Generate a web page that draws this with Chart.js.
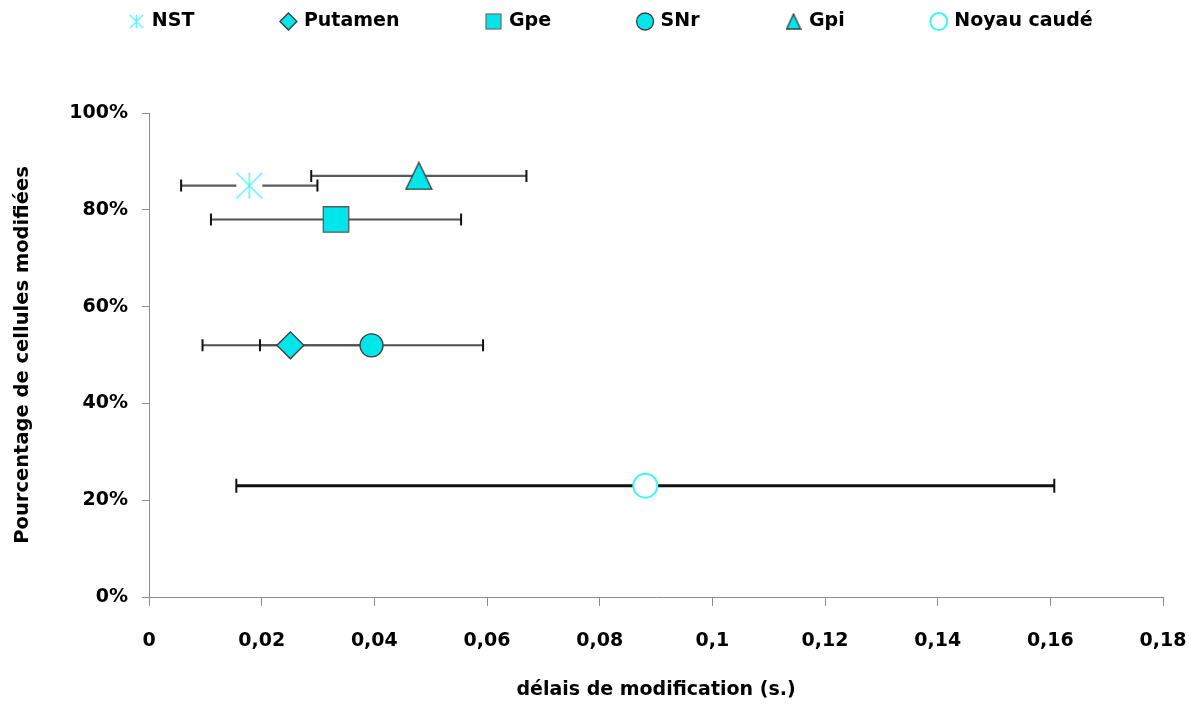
<!DOCTYPE html>
<html>
<head>
<meta charset="utf-8">
<script src="https://cdn.jsdelivr.net/npm/chart.js@4/dist/chart.umd.min.js"></script>
<style>
  html, body { margin: 0; padding: 0; background: #fff; }
  #wrap { width: 1201px; height: 707px; }
</style>
</head>
<body>
<div id="wrap"><canvas id="c" width="1201" height="707"></canvas></div>
<script>
// ---- data ----
const seriesNames = ['NST', 'Putamen', 'Gpe', 'SNr', 'Gpi', 'Noyau caudé'];
const delays = [0.0178, 0.0251, 0.0332, 0.0395, 0.0479, 0.0881];       // x (s.)
const percents = [0.85, 0.52, 0.78, 0.52, 0.87, 0.23];                 // y (fraction)
const delayErrors = [0.0121, 0.0156, 0.0222, 0.0198, 0.0191, 0.0726];  // +/- x error
const xTickValues = [0, 0.02, 0.04, 0.06, 0.08, 0.1, 0.12, 0.14, 0.16, 0.18];
const yTickValues = [0, 0.2, 0.4, 0.6, 0.8, 1];

// ---- styles ----
const CYAN = 'rgb(0,230,235)';
const EDGE = '#3c3c3c';
const FONT = 'DejaVu Sans';

function makeStar(size, lw, withBg) {
  const c = document.createElement('canvas');
  c.width = size; c.height = size;
  const g = c.getContext('2d');
  if (withBg) { g.fillStyle = '#fff'; g.fillRect(1, size/2 - 3, size - 2, 6); }
  g.strokeStyle = '#5cf2f7';
  g.lineWidth = lw;
  const m = 1;
  g.beginPath();
  g.moveTo(size/2, m); g.lineTo(size/2, size - m);
  g.moveTo(m, m); g.lineTo(size - m, size - m);
  g.moveTo(size - m, m); g.lineTo(m, size - m);
  g.stroke();
  return c;
}
function makeTriangle(w, h) {
  const c = document.createElement('canvas');
  c.width = w + 2; c.height = h + 2;
  const g = c.getContext('2d');
  g.beginPath();
  g.moveTo(1 + w / 2, 1);
  g.lineTo(1 + w, 1 + h);
  g.lineTo(1, 1 + h);
  g.closePath();
  g.fillStyle = CYAN; g.fill();
  g.strokeStyle = EDGE; g.lineWidth = 1.3; g.lineJoin = 'miter'; g.stroke();
  return c;
}
function makeSquare(s) {
  const c = document.createElement('canvas');
  c.width = s + 2; c.height = s + 2;
  const g = c.getContext('2d');
  g.fillStyle = CYAN; g.fillRect(1, 1, s, s);
  g.strokeStyle = '#6a6a6a'; g.lineWidth = 1.2; g.strokeRect(1, 1, s, s);
  return c;
}
const starBig = makeStar(28, 1.5, true);
const starSmall = makeStar(15, 1.3, false);
const triBig = makeTriangle(26, 27);
const triSmall = makeTriangle(14, 15);
const squareSmall = makeSquare(15);

const pointStyles = [starBig, 'rectRot', 'rect', 'circle', triBig, 'circle'];
const legendStyles = [starSmall, 'rectRot', squareSmall, 'circle', triSmall, 'circle'];
const pointRadii = [14, 13.5, 18, 11.5, 14, 12];
const fills = ['#5cf2f7', CYAN, CYAN, CYAN, CYAN, '#ffffff'];
const borders = ['#5cf2f7', EDGE, '#5a5a5a', EDGE, EDGE, '#3ff5fa'];
const borderWidths = [1, 1.3, 1.3, 1.3, 1.3, 2];
const errColors = ['#5a5a5a', '#505050', '#505050', '#505050', '#5a5a5a', '#111111'];
const errWidths = [2.2, 2, 2, 2, 2.2, 3];
const errCaps = [6, 6, 6, 6, 6, 7];

const datasets = seriesNames.map((name, i) => ({
  label: name,
  data: [{ x: delays[i], y: percents[i] }],
  pointStyle: pointStyles[i],
  pointRadius: pointRadii[i],
  pointHoverRadius: pointRadii[i],
  backgroundColor: fills[i],
  borderColor: borders[i],
  borderWidth: borderWidths[i],
  showLine: false
}));

const errorBarPlugin = {
  id: 'errorBars',
  beforeDatasetsDraw(chart) {
    const { ctx, scales: { x, y } } = chart;
    chart.data.datasets.forEach((ds, i) => {
      const p = ds.data[0];
      const x0 = x.getPixelForValue(p.x - delayErrors[i]);
      const x1 = x.getPixelForValue(p.x + delayErrors[i]);
      const yy = y.getPixelForValue(p.y);
      const cap = errCaps[i];
      ctx.save();
      ctx.strokeStyle = errColors[i];
      ctx.lineWidth = errWidths[i];
      ctx.beginPath();
      ctx.moveTo(x0, yy); ctx.lineTo(x1, yy);
      ctx.stroke();
      ctx.lineWidth = 2;
      ctx.strokeStyle = '#111';
      ctx.beginPath();
      ctx.moveTo(x0, yy - cap); ctx.lineTo(x0, yy + cap);
      ctx.moveTo(x1, yy - cap); ctx.lineTo(x1, yy + cap);
      ctx.stroke();
      ctx.restore();
    });
  }
};

const LEGEND_PAD = 88;
const TOP_PAD = -76;
const LEGEND_SHIFT = 30;
const legendFitPlugin = {
  id: 'legendFit',
  beforeUpdate(chart) {
    const lg = chart.legend;
    if (lg && !lg._patched) {
      const orig = lg.fit;
      lg.fit = function () { orig.call(this); this.height = 113 - TOP_PAD; };
      lg._patched = true;
    }
  },
  afterLayout(chart) {
    const lg = chart.legend;
    if (lg) { lg.left += LEGEND_SHIFT; lg.right += LEGEND_SHIFT; }
  }
};

new Chart(document.getElementById('c'), {
  type: 'scatter',
  data: { datasets },
  plugins: [errorBarPlugin, legendFitPlugin],
  options: {
    responsive: false,
    animation: false,
    devicePixelRatio: 1,
    layout: { padding: { top: TOP_PAD, right: 38, bottom: 0, left: 0 } },
    plugins: {
      tooltip: { enabled: false },
      legend: {
        position: 'top',
        labels: {
          usePointStyle: true,
          boxWidth: 12,
          boxHeight: 12,
          padding: LEGEND_PAD,
          color: '#000',
          font: { family: FONT, size: 19, weight: 'bold' },
          generateLabels(chart) {
            const items = Chart.defaults.plugins.legend.labels.generateLabels(chart);
            items.forEach((it, i) => { it.pointStyle = legendStyles[i]; });
            return items;
          }
        }
      }
    },
    scales: {
      x: {
        type: 'linear',
        min: xTickValues[0],
        max: xTickValues[xTickValues.length - 1],
        afterBuildTicks(scale) { scale.ticks = xTickValues.map(v => ({ value: v })); },
        afterFit(scale) { scale.height = 110; scale.paddingRight = 0; scale.paddingLeft = 0; },
        grid: { drawOnChartArea: false, drawTicks: true, tickLength: 9, color: '#8c8c8c' },
        border: { display: true, color: '#8c8c8c', width: 1 },
        ticks: {
          padding: 24,
          color: '#000',
          font: { family: FONT, size: 19, weight: 'bold' },
          callback: v => String(Math.round(v * 100) / 100).replace('.', ',')
        },
        title: {
          display: true,
          text: 'délais de modification (s.)',
          color: '#000',
          font: { family: FONT, size: 19, weight: 'bold' },
          padding: { top: 6, bottom: 6 }
        }
      },
      y: {
        type: 'linear',
        min: yTickValues[0],
        max: yTickValues[yTickValues.length - 1],
        afterBuildTicks(scale) { scale.ticks = yTickValues.map(v => ({ value: v })); },
        afterFit(scale) { scale.width = 149; },
        grid: { drawOnChartArea: false, drawTicks: true, tickLength: 7, color: '#8c8c8c' },
        border: { display: true, color: '#8c8c8c', width: 1 },
        ticks: {
          padding: 14,
          color: '#000',
          font: { family: FONT, size: 19, weight: 'bold' },
          callback: v => Math.round(v * 100) + '%'
        },
        title: {
          display: true,
          text: 'Pourcentage de cellules modifiées',
          color: '#000',
          font: { family: FONT, size: 19.5, weight: 'bold' },
          padding: { top: 11, bottom: 4 }
        }
      }
    }
  }
});
</script>
</body>
</html>
